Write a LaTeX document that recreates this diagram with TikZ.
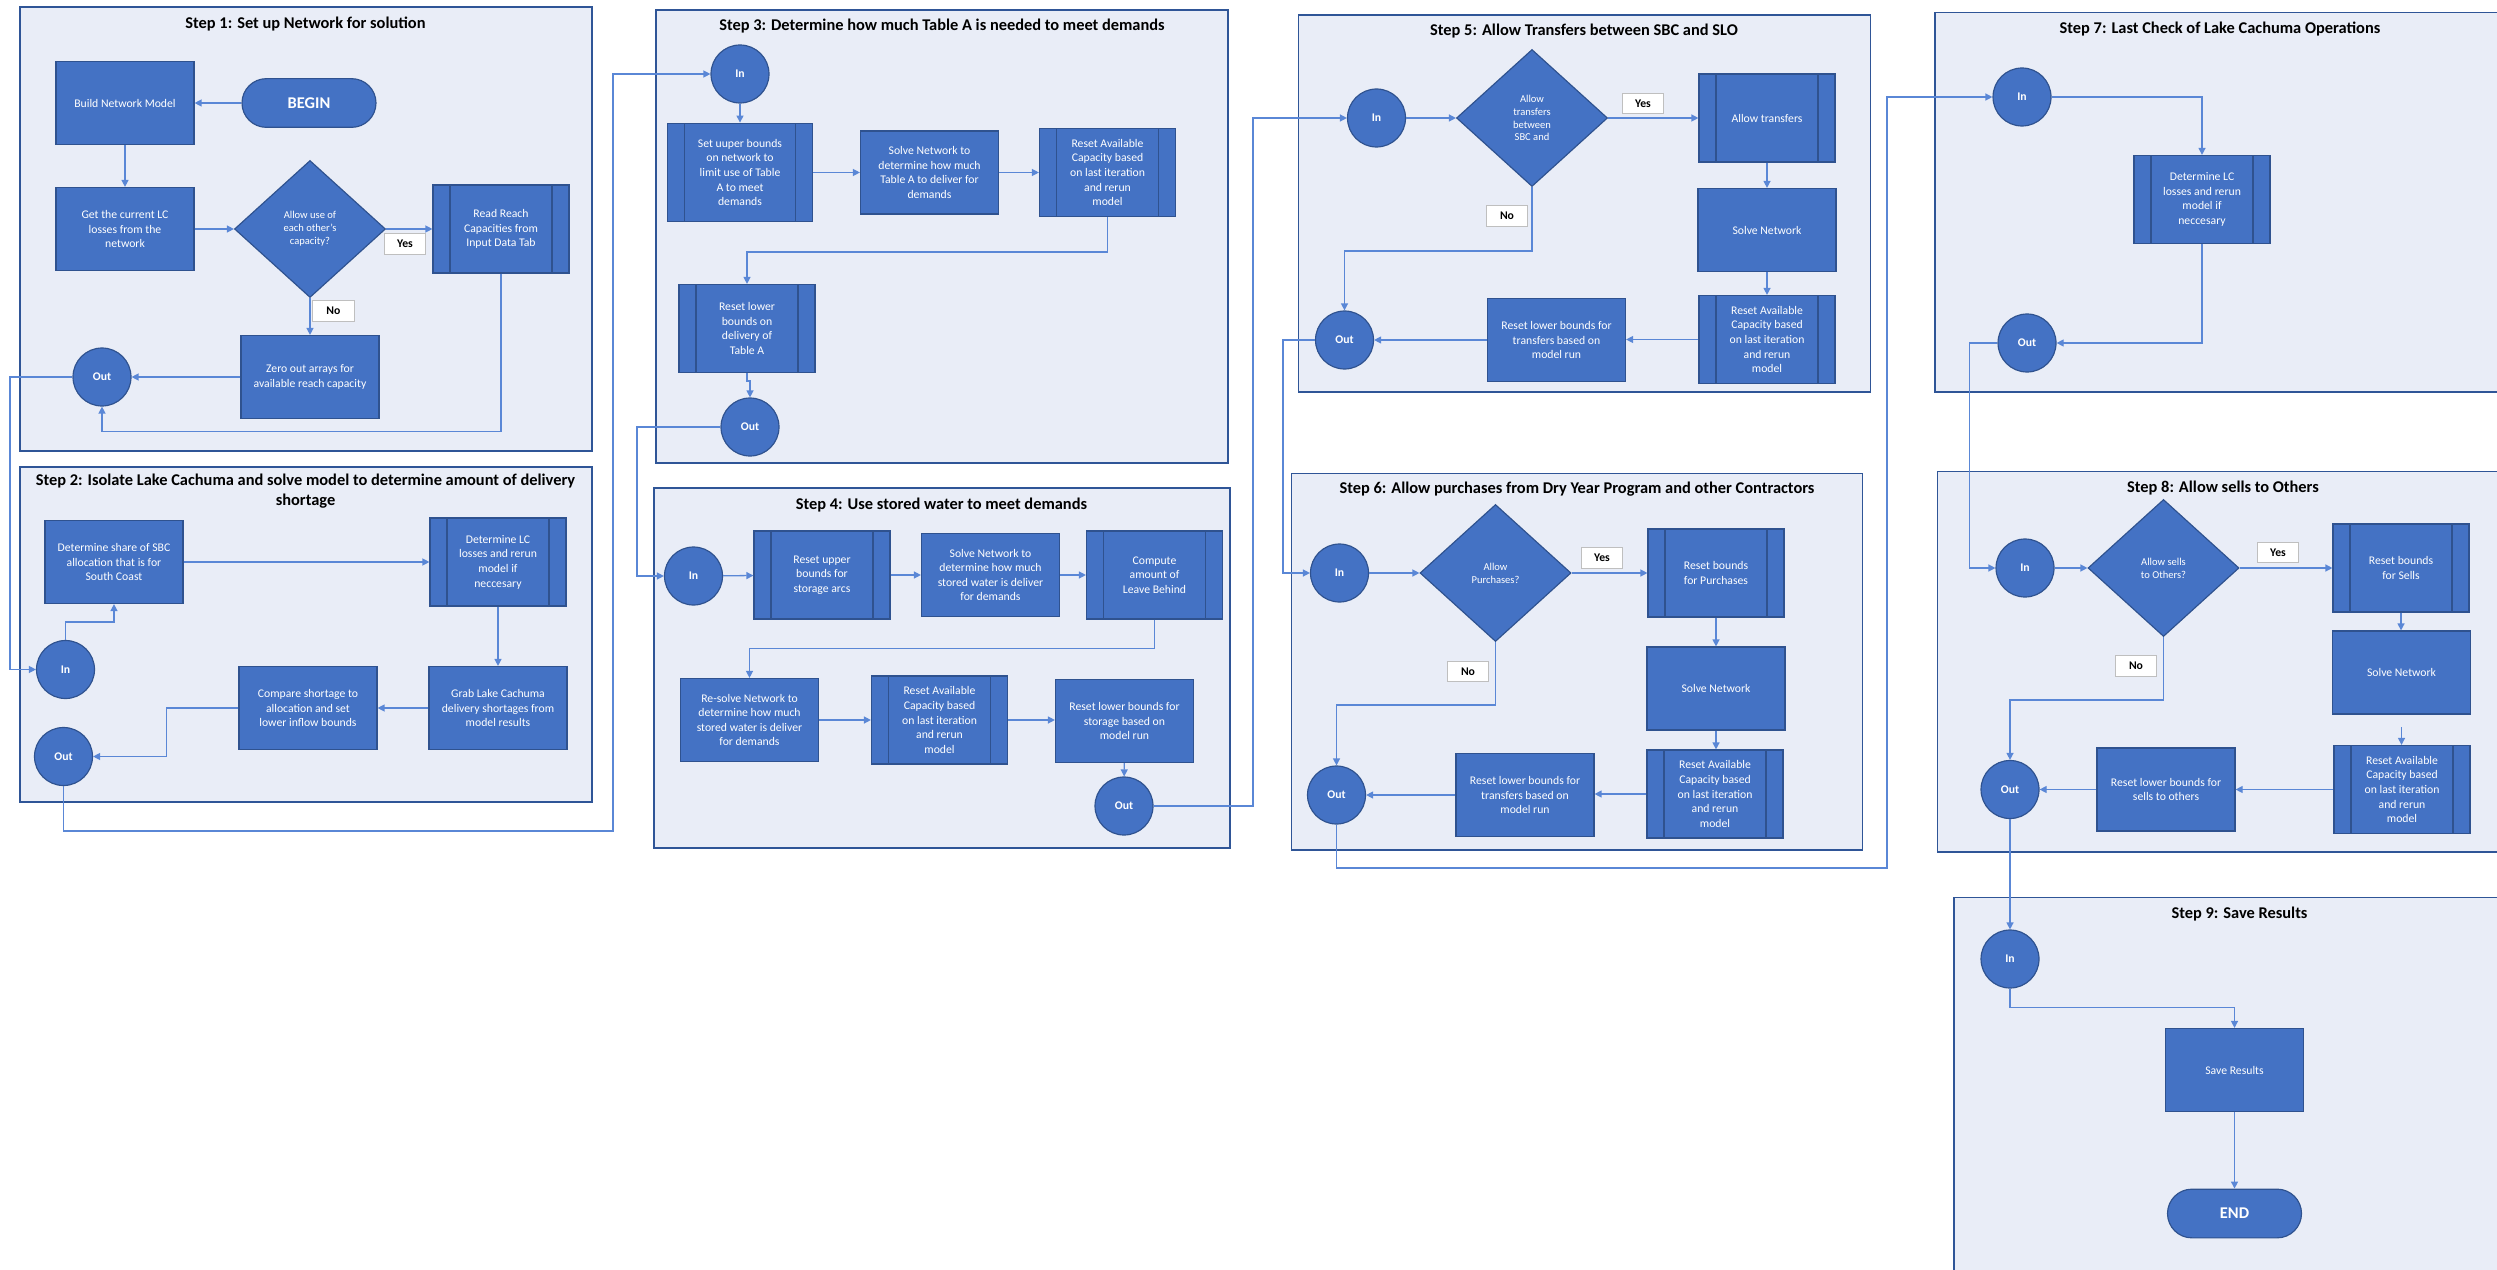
\documentclass[tikz,border=0pt]{standalone}
\usepackage{fontspec}
\setmainfont{Carlito}
\usetikzlibrary{arrows.meta,shapes.geometric}
\definecolor{boxblue}{HTML}{4472C4}
\definecolor{boxedge}{HTML}{2F528F}
\definecolor{grpfill}{HTML}{E9EDF7}
\definecolor{grpedge}{HTML}{2F5597}
\definecolor{lineblue}{HTML}{5A87D6}

\begin{document}
\begin{tikzpicture}[>={Triangle[length=6pt,width=6pt]}, x=0.03cm, y=-0.03cm,
  grp/.style={draw=grpedge, fill=grpfill, line width=1.2pt},
  ttl/.style={font=\bfseries\fontsize{14}{17}\selectfont, align=center},
  proc/.style={rectangle, draw=boxedge, fill=boxblue, line width=1pt, text=white, align=center,
    minimum width=4.14cm, minimum height=2.49cm, inner sep=2pt, font=\fontsize{10}{12.5}\selectfont},
  predef/.style={proc, minimum width=4.08cm, minimum height=2.64cm, path picture={
    \draw[boxedge, line width=1pt]
      ([xshift=0.51cm]path picture bounding box.north west) -- ([xshift=0.51cm]path picture bounding box.south west)
      ([xshift=-0.51cm]path picture bounding box.north east) -- ([xshift=-0.51cm]path picture bounding box.south east);}},
  decide/.style={diamond, aspect=1.1, draw=boxedge, fill=boxblue, line width=1pt, text=white, align=center,
    minimum width=4.53cm, minimum height=4.11cm, inner sep=0pt, font=\fontsize{9}{11}\selectfont},
  conn/.style={circle, draw=boxedge, fill=boxblue, line width=1pt, text=white, minimum size=1.74cm,
    inner sep=0pt, font=\bfseries\fontsize{10}{12}\selectfont},
  term/.style={rectangle, rounded corners=0.73cm, draw=boxedge, fill=boxblue, line width=1pt, text=white,
    minimum width=4.02cm, minimum height=1.46cm, font=\bfseries\fontsize{14}{17}\selectfont},
  tag/.style={rectangle, draw=black!25, fill=white, line width=1pt, minimum width=1.25cm, minimum height=0.62cm,
    inner sep=0pt, font=\bfseries\fontsize{10}{12}\selectfont},
  flow/.style={draw=lineblue, line width=1.1pt, ->}]
\useasboundingbox (0,0) rectangle (2497,1270);
\clip (0,0) rectangle (2497,1270);

% Step 1
\draw[grp] (20,7) rectangle (592,451);
\node[ttl] (t1) at (305.5,24) {Step 1: Set up Network for solution};
\node[term] (begin) at (309,103) {BEGIN};
\node[proc] (build) at (125,103) {Build Network Model};
\node[proc] (getlc) at (125,229) {Get the current LC\\losses from the\\network};
\node[decide] (dec1) at (310,229) {Allow use of\\each other’s\\capacity?};
\node[predef] (read) at (501,229) {Read Reach\\Capacities from\\Input Data Tab};
\node[proc] (zero) at (310,377) {Zero out arrays for\\available reach capacity};
\node[conn] (s1out) at (102,377) {Out};
\draw[flow] (begin) -- (build);
\draw[flow] (build) -- (getlc);
\draw[flow] (getlc) -- (dec1);
\draw[flow] (dec1) -- (read);
\draw[flow] (dec1) -- (zero);
\draw[flow] (zero) -- (s1out);
\draw[flow] (read.south) -- ++(0,158) -| (s1out.south);
\node[tag] (yes1) at (405,244) {Yes};
\node[tag] (no1) at (333.5,311) {No};

% Step 2
\draw[grp] (20,467) rectangle (592,802);
\node[ttl] (t2) at (305.5,491) {Step 2: Isolate Lake Cachuma and solve model to determine amount of delivery\\shortage};
\node[proc] (share) at (114,562) {Determine share of SBC\\allocation that is for\\South Coast};
\node[predef] (detlc) at (498,562) {Determine LC\\losses and rerun\\model if\\neccesary};
\node[proc] (grab) at (498,708) {Grab Lake Cachuma\\delivery shortages from\\model results};
\node[proc] (compare) at (308,708) {Compare shortage to\\allocation and set\\lower inflow bounds};
\node[conn] (s2in) at (65.5,669.5) {In};
\node[conn] (s2out) at (63.5,756.5) {Out};
\draw[flow] (s1out.west) -| (10,500) |- (s2in.west);
\draw[flow] (s2in.north) -- ++(0,-18) -| (share.south);
\draw[flow] (share) -- (detlc);
\draw[flow] (detlc) -- (grab);
\draw[flow] (grab) -- (compare);
\draw[flow] (compare.west) -- ++(-72,0) |- (s2out.east);

% Step 3
\draw[grp] (656,10) rectangle (1228,463);
\node[ttl] (t3) at (942,26) {Step 3: Determine how much Table A is needed to meet demands};
\node[conn] (s3in) at (740,74) {In};
\node[predef, minimum width=4.35cm, minimum height=2.96cm] (setup) at (740,172.5) {Set uuper bounds\\on network to\\limit use of Table\\A to meet\\demands};
\node[proc] (solve3) at (929.5,172.5) {Solve Network to\\determine how much\\Table A to deliver for\\demands};
\node[predef] (reset3) at (1107.5,172.5) {Reset Available\\Capacity based\\on last iteration\\and rerun\\model};
\node[predef] (resetlow3) at (747,328.5) {Reset lower\\bounds on\\delivery of\\Table A};
\node[conn] (s3out) at (750,427) {Out};
\draw[flow] (s2out.south) |- (613,831) |- (s3in.west);
\draw[flow] (s3in) -- (setup);
\draw[flow] (setup) -- (solve3);
\draw[flow] (solve3) -- (reset3);
\draw[flow] (reset3.south) -- ++(0,35) -| (resetlow3.north);
\draw[flow] (resetlow3.south) -- ++(0,8) -| (s3out.north);

% Step 4
\draw[grp] (654,488) rectangle (1230,848);
\node[ttl] (t4) at (941.5,505.5) {Step 4: Use stored water to meet demands};
\node[conn] (s4in) at (693.5,576) {In};
\node[predef] (resup) at (822,575) {Reset upper\\bounds for\\storage arcs};
\node[proc] (solve4) at (990.5,575) {Solve Network to\\determine how much\\stored water is deliver\\for demands};
\node[predef] (compute) at (1154.5,575) {Compute\\amount of\\Leave Behind};
\node[proc] (resolve) at (749.5,720) {Re-solve Network to\\determine how much\\stored water is deliver\\for demands};
\node[predef] (resav4) at (939.5,720) {Reset Available\\Capacity based\\on last iteration\\and rerun\\model};
\node[proc] (reslow4) at (1124.5,721) {Reset lower bounds for\\storage based on\\model run};
\node[conn] (s4out) at (1124,806) {Out};
\draw[flow] (s3out.west) -| (637,500) |- (s4in.west);
\draw[flow] (s4in) -- (resup);
\draw[flow] (resup) -- (solve4);
\draw[flow] (solve4) -- (compute);
\draw[flow] (compute.south) -- ++(0,29) -| (resolve.north);
\draw[flow] (resolve) -- (resav4);
\draw[flow] (resav4.east) -- (resav4.east -| reslow4.west);
\draw[flow] (reslow4) -- (s4out);

% Step 5
\draw[grp] (1298.5,15) rectangle (1870.5,392);
\node[ttl] (t5) at (1584,31) {Step 5: Allow Transfers between SBC and SLO};
\node[conn] (s5in) at (1376.5,118) {In};
\node[decide] (dec5) at (1532,118) {Allow\\transfers\\between\\SBC and};
\node[predef] (allow) at (1767,118) {Allow transfers};
\node[proc] (solve5) at (1767,230) {Solve Network};
\node[predef] (resav5) at (1767,339.5) {Reset Available\\Capacity based\\on last iteration\\and rerun\\model};
\node[proc] (reslow5) at (1556.5,340) {Reset lower bounds for\\transfers based on\\model run};
\node[conn] (s5out) at (1344.5,340) {Out};
\draw[flow] (s4out.east) -| (1253,500) |- (s5in.west);
\draw[flow] (s5in) -- (dec5);
\draw[flow] (dec5) -- (allow);
\draw[flow] (allow) -- (solve5);
\draw[flow] (solve5) -- (resav5);
\draw[flow] (resav5.west) -- (resav5.west -| reslow5.east);
\draw[flow] (reslow5) -- (s5out);
\draw[flow] (dec5.south) -- ++(0,64) -| (s5out.north);
\node[tag] (yes5) at (1643,103.5) {Yes};
\node[tag] (no5) at (1507,216) {No};

% Step 6
\draw[grp] (1291.5,473.5) rectangle (1862.5,850);
\node[ttl] (t6) at (1577,489.5) {Step 6: Allow purchases from Dry Year Program and other Contractors};
\node[conn] (s6in) at (1339.5,573) {In};
\node[decide] (dec6) at (1495.5,573) {Allow\\Purchases?};
\node[predef] (respur) at (1716,573) {Reset bounds\\for Purchases};
\node[proc] (solve6) at (1716,688.5) {Solve Network};
\node[predef] (resav6) at (1715,794) {Reset Available\\Capacity based\\on last iteration\\and rerun\\model};
\node[proc] (reslow6) at (1525,795) {Reset lower bounds for\\transfers based on\\model run};
\node[conn] (s6out) at (1336.5,795) {Out};
\draw[flow] (s5out.west) -| (1283,450) |- (s6in.west);
\draw[flow] (s6in) -- (dec6);
\draw[flow] (dec6) -- (respur);
\draw[flow] (respur) -- (solve6);
\draw[flow] (solve6.south) -- (solve6.south |- resav6.north);
\draw[flow] (resav6.west) -- (resav6.west -| reslow6.east);
\draw[flow] (reslow6) -- (s6out);
\draw[flow] (dec6.south) -- ++(0,63) -| (s6out.north);
\node[tag] (yes6) at (1602,558) {Yes};
\node[tag] (no6) at (1468,671.5) {No};

% Step 7
\draw[grp] (1935,12.5) rectangle (2520,392);
\node[ttl] (t7) at (2220,29.5) {Step 7: Last Check of Lake Cachuma Operations};
\node[conn] (s7in) at (2022,97) {In};
\node[predef] (detlc7) at (2202,199.5) {Determine LC\\losses and rerun\\model if\\neccesary};
\node[conn] (s7out) at (2027,343) {Out};
\draw[flow] (s6out.south) |- (1887,868) |- (s7in.west);
\draw[flow] (s7in.east) -| (detlc7.north);
\draw[flow] (detlc7.south) |- (s7out.east);

% Step 8
\draw[grp] (1937.5,471.5) rectangle (2520,852);
\node[ttl] (t8) at (2223,488) {Step 8: Allow sells to Others};
\node[conn] (s8in) at (2025,568) {In};
\node[decide] (dec8) at (2163.5,568) {Allow sells\\to Others?};
\node[predef] (ressell) at (2401,568) {Reset bounds\\for Sells};
\node[proc] (solve8) at (2401.5,672.5) {Solve Network};
\node[predef] (resav8) at (2402,789.5) {Reset Available\\Capacity based\\on last iteration\\and rerun\\model};
\node[proc] (reslow8) at (2166,789.5) {Reset lower bounds for\\sells to others};
\node[conn] (s8out) at (2010,789.5) {Out};
\draw[flow] (s7out.west) -| (1969.5,450) |- (s8in.west);
\draw[flow] (s8in) -- (dec8);
\draw[flow] (dec8) -- (ressell);
\draw[flow] (ressell.south) -- (ressell.south |- solve8.north);
\draw[flow, shorten <=0.38cm] (solve8.south) -- (solve8.south |- resav8.north);
\draw[flow] (resav8) -- (reslow8);
\draw[flow] (reslow8) -- (s8out);
\draw[flow] (dec8.south) -- ++(0,63) -| (s8out.north);
\node[tag] (yes8) at (2278,552.5) {Yes};
\node[tag] (no8) at (2136,666) {No};

% Step 9
\draw[grp] (1954,897.5) rectangle (2520,1290);
\node[ttl] (t9) at (2239.5,914.5) {Step 9: Save Results};
\node[conn] (s9in) at (2010,959) {In};
\node[proc] (save) at (2234.5,1070) {Save Results};
\node[term] (end) at (2234.5,1213.5) {END};
\draw[flow] (s8out) -- (s9in);
\draw[flow] (s9in.south) -- ++(0,19) -| (save.north);
\draw[flow] (save) -- (end);
\end{tikzpicture}
\end{document}
